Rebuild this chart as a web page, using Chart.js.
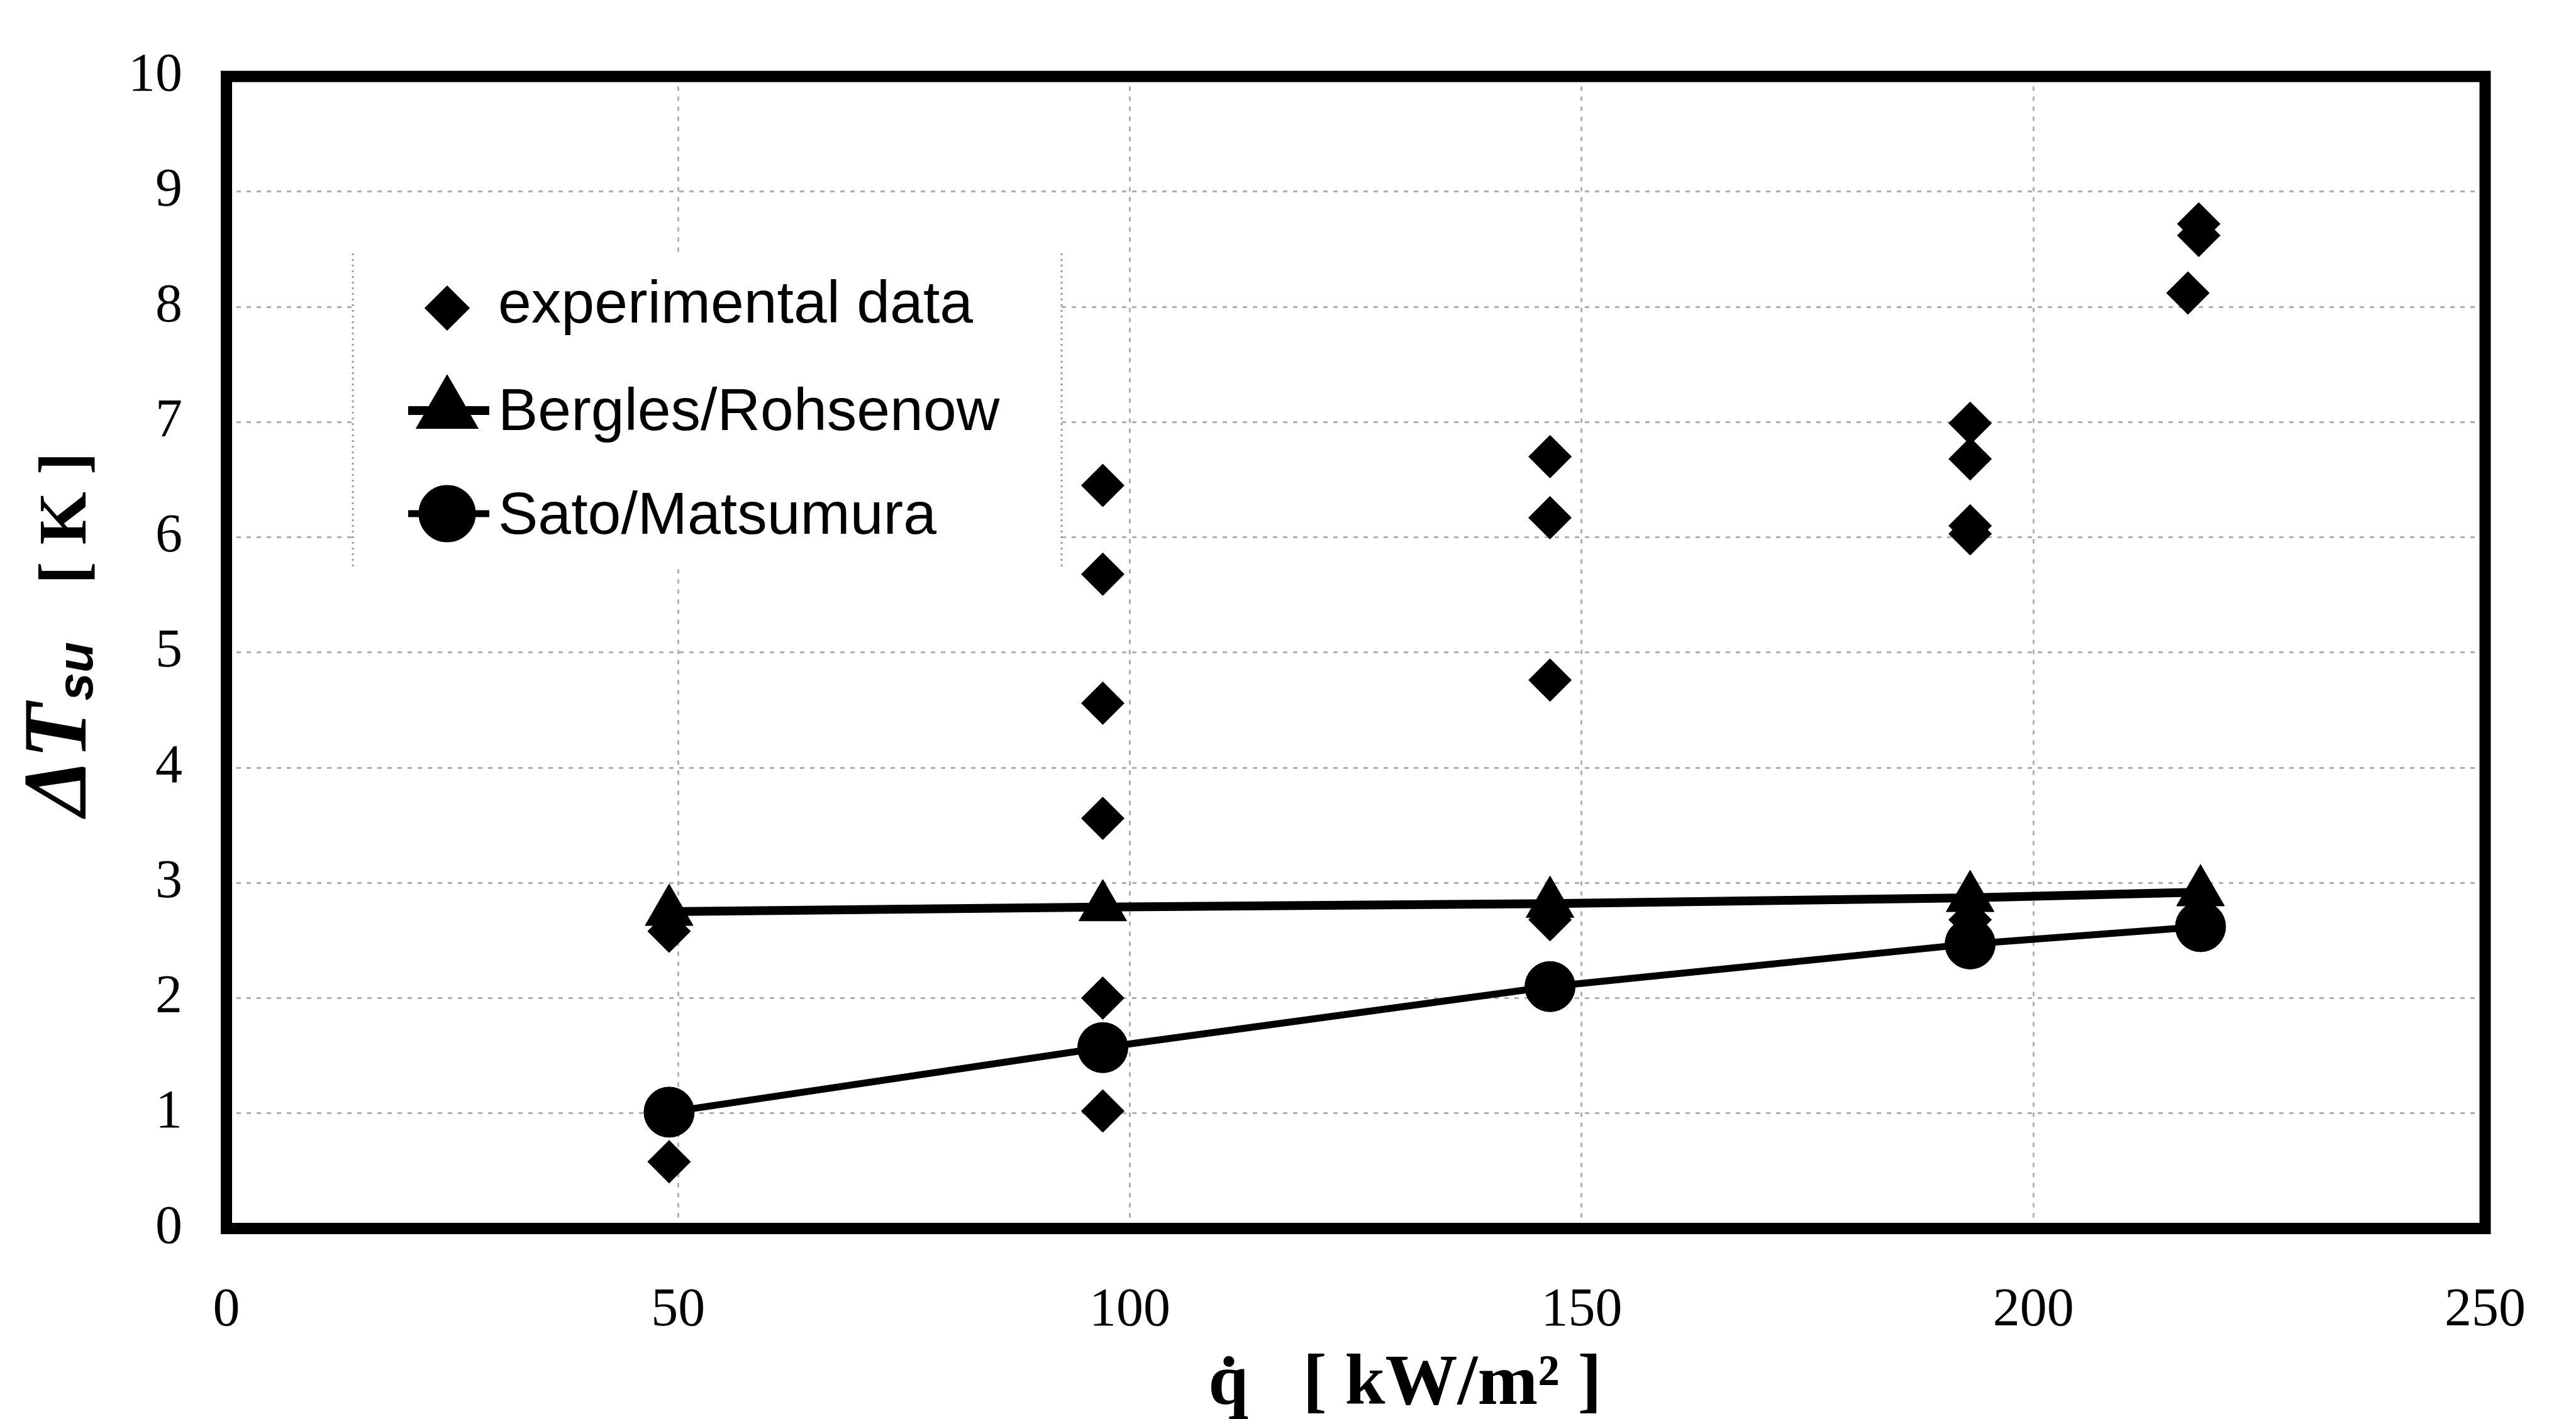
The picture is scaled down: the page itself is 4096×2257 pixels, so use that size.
<!DOCTYPE html>
<html>
<head>
<meta charset="utf-8">
<script src="https://cdn.jsdelivr.net/npm/chart.js@4/dist/chart.umd.min.js"></script>
<style>
html,body{margin:0;padding:0;background:#fff;}
#wrap{width:4096px;height:2257px;position:relative;}
</style>
</head>
<body>
<div id="wrap"><canvas id="c" width="4096" height="2257"></canvas></div>
<script>
// ---- data ----
const seriesLabels = ['experimental data', 'Bergles/Rohsenow', 'Sato/Matsumura'];
const expQ  = [49, 49, 97, 97, 97, 97, 97, 97, 146.5, 146.5, 146.5, 146.5, 193, 193, 193, 193, 193, 218.3, 218.3, 217.1];
const expDT = [2.58, 0.58, 6.45, 5.68, 4.56, 3.56, 2.00, 1.02, 6.70, 6.17, 4.76, 2.68, 6.99, 6.68, 6.10, 6.03, 2.68, 8.72, 8.62, 8.12];
const modelQ = [49, 97, 146.5, 193, 218.5];
const berglesDT = [2.75, 2.79, 2.82, 2.87, 2.92];
const satoDT = [1.01, 1.57, 2.10, 2.47, 2.62];
const xTickValues = [0, 50, 100, 150, 200, 250];
const yTickValues = [0, 1, 2, 3, 4, 5, 6, 7, 8, 9, 10];
const xTitleText = 'q\u0307   [ kW/m\u00B2 ]';
const yTitleMain = '\u0394T';
const yTitleSub = 'su';
const yTitleUnit = '[ K ]';

const toPts = (xs, ys) => xs.map((x, i) => ({x: x, y: ys[i]}));

function drawMarker(ctx, style, r, x, y) {
  if (Chart.helpers && Chart.helpers.drawPoint) {
    Chart.helpers.drawPoint(ctx, {pointStyle: style, rotation: 0, radius: r, borderWidth: 1}, x, y);
  } else {
    ctx.beginPath(); ctx.arc(x, y, r, 0, Math.PI * 2); ctx.fill();
  }
}

const decor = {
  id: 'decor',
  afterDatasetsDraw(chart) {
    const ctx = chart.ctx;
    const ds = chart.data.datasets;
    // legend box
    const bx0 = 561, bx1 = 1688, by0 = 403, by1 = 904;
    ctx.save();
    ctx.fillStyle = '#fff';
    ctx.fillRect(bx0, by0, bx1 - bx0, by1 - by0);
    ctx.strokeStyle = '#9a9a9a';
    ctx.lineWidth = 3;
    ctx.setLineDash([3, 6]);
    ctx.beginPath();
    ctx.moveTo(bx0, by0); ctx.lineTo(bx0, by1);
    ctx.moveTo(bx1, by0); ctx.lineTo(bx1, by1);
    ctx.stroke();
    ctx.setLineDash([]);
    const symY = [490, 653, 817];
    const baseY = [513, 684, 849];
    const symX = 711, lx0 = 649, lx1 = 778, tx = 792;
    for (let i = 0; i < ds.length; i++) {
      ctx.fillStyle = '#000';
      ctx.strokeStyle = '#000';
      if (ds[i].showLine) {
        ctx.lineWidth = ds[i].borderWidth;
        ctx.beginPath(); ctx.moveTo(lx0, symY[i]); ctx.lineTo(lx1, symY[i]); ctx.stroke();
      }
      drawMarker(ctx, ds[i].pointStyle, ds[i].pointRadius, symX, symY[i]);
      ctx.font = '95px "Liberation Sans", Arial, sans-serif';
      ctx.textAlign = 'left';
      ctx.textBaseline = 'alphabetic';
      ctx.fillText(ds[i].label, tx, baseY[i]);
    }
    ctx.restore();
  },
  afterDraw(chart) {
    const ctx = chart.ctx;
    const a = chart.chartArea;
    ctx.save();
    // heavy frame
    ctx.strokeStyle = '#000';
    ctx.lineWidth = 18;
    ctx.strokeRect(a.left, a.top, a.right - a.left, a.bottom - a.top);
    // x title
    ctx.fillStyle = '#000';
    ctx.font = 'bold 115px "Liberation Serif", "Times New Roman", serif';
    ctx.textAlign = 'center';
    ctx.textBaseline = 'alphabetic';
    ctx.fillText(xTitleText, 2234, 2233);
    // y title (rotated)
    ctx.translate(136, 1298);
    ctx.rotate(-Math.PI / 2);
    ctx.textAlign = 'left';
    ctx.font = 'italic bold 145px "Liberation Serif", "Times New Roman", serif';
    ctx.fillText(yTitleMain, 0, 0);
    let w = ctx.measureText(yTitleMain).width;
    ctx.font = 'italic bold 80px "Liberation Sans", Arial, sans-serif';
    ctx.fillText(yTitleSub, w + 4, 11);
    w += 4 + ctx.measureText(yTitleSub).width;
    ctx.font = 'bold 108px "Liberation Serif", "Times New Roman", serif';
    ctx.fillText(yTitleUnit, w + 92, 0);
    ctx.restore();
  }
};

const gridColor = '#b0b0b0';
const tickFont = {family: '"Liberation Serif", "Times New Roman", serif', size: 86};

new Chart(document.getElementById('c'), {
  type: 'scatter',
  data: {
    datasets: [
      {
        label: seriesLabels[0],
        data: toPts(expQ, expDT),
        showLine: false,
        pointStyle: 'rectRot',
        pointRadius: 34,
        backgroundColor: '#000',
        borderColor: '#000',
        pointBackgroundColor: '#000',
        pointBorderColor: '#000',
        pointBorderWidth: 1,
        order: 0
      },
      {
        label: seriesLabels[1],
        data: toPts(modelQ, berglesDT),
        showLine: true,
        borderWidth: 14,
        borderColor: '#000',
        backgroundColor: '#000',
        pointStyle: 'triangle',
        pointRadius: 44,
        pointBackgroundColor: '#000',
        pointBorderColor: '#000',
        pointBorderWidth: 1,
        tension: 0,
        order: 1
      },
      {
        label: seriesLabels[2],
        data: toPts(modelQ, satoDT),
        showLine: true,
        borderWidth: 11,
        borderColor: '#000',
        backgroundColor: '#000',
        pointStyle: 'circle',
        pointRadius: 40,
        pointBackgroundColor: '#000',
        pointBorderColor: '#000',
        pointBorderWidth: 1,
        tension: 0,
        order: 2
      }
    ]
  },
  options: {
    responsive: false,
    animation: false,
    devicePixelRatio: 1,
    events: [],
    layout: {padding: {left: 0, right: 101, top: 72, bottom: 0}},
    plugins: {legend: {display: false}, tooltip: {enabled: false}, title: {display: false}},
    scales: {
      x: {
        type: 'linear',
        min: 0, max: 250,
        afterBuildTicks: (s) => { s.ticks = xTickValues.map(v => ({value: v})); },
        afterFit: (s) => { s.height = 303; },
        ticks: {color: '#000', font: tickFont, padding: 80, maxRotation: 0, autoSkip: false},
        grid: {color: gridColor, lineWidth: 3, drawTicks: false},
        border: {display: false, dash: [7, 9]}
      },
      y: {
        type: 'linear',
        min: 0, max: 10,
        afterBuildTicks: (s) => { s.ticks = yTickValues.map(v => ({value: v})); },
        afterFit: (s) => { s.width = 360; },
        ticks: {color: '#000', font: tickFont, padding: 70, autoSkip: false},
        grid: {color: gridColor, lineWidth: 3, drawTicks: false},
        border: {display: false, dash: [7, 9]}
      }
    }
  },
  plugins: [decor]
});
</script>
</body>
</html>
